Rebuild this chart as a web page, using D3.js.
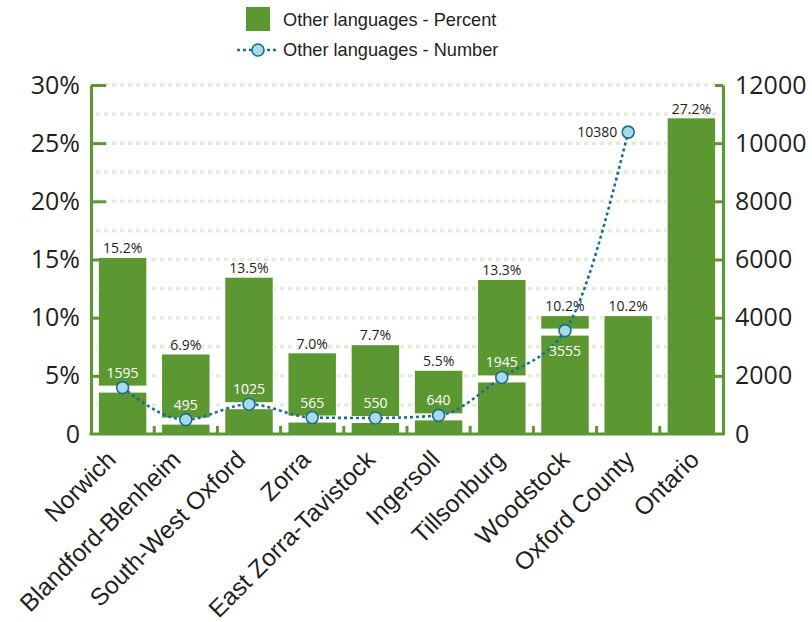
<!DOCTYPE html>
<html>
<head>
<meta charset="utf-8">
<script src="https://cdn.jsdelivr.net/npm/d3@7"></script>
<style>
  body { margin: 0; background: #fff; }
  svg { display: block; }
</style>
</head>
<body>
<svg id="chart" width="812" height="622"></svg>
<script>
// Share of residents whose mother tongue is another language, by municipality
const categories = ["Norwich", "Blandford-Blenheim", "South-West Oxford", "Zorra",
  "East Zorra-Tavistock", "Ingersoll", "Tillsonburg", "Woodstock", "Oxford County", "Ontario"];
const percentValues = [15.2, 6.9, 13.5, 7.0, 7.7, 5.5, 13.3, 10.2, 10.2, 27.2];
const numberValues = [1595, 495, 1025, 565, 550, 640, 1945, 3555, 10380, null];
const percentTicks = [0, 5, 10, 15, 20, 25, 30];
const numberTicks = [0, 2000, 4000, 6000, 8000, 10000, 12000];
const gridValues = [2.5, 5, 7.5, 10, 12.5, 15, 17.5, 20, 22.5, 25, 27.5, 30];
const legendLabels = ["Other languages - Percent", "Other languages - Number"];

const GREEN = "#5b9832";
const GRID = "#e1eed5";
const LINE = "#1c6c93";
const DOT = "#a9dbe6";
const INK = "#231f20";

const svg = d3.select("#chart");
const plotLeft = 91, plotRight = 723, plotTop = 85, plotBottom = 434;

const x = d3.scaleBand().domain(categories).range([plotLeft, plotRight])
  .paddingInner(0.225).paddingOuter(0.1125);
// category names sit on a slightly wider spread than the bars
const xLabel = x.copy().range([plotLeft - 6, plotRight + 10]);
const y = d3.scaleLinear().domain([0, 30]).range([plotBottom, plotTop]);
const yR = d3.scaleLinear().domain([0, 12000]).range([plotBottom, plotTop]);

// dotted horizontal guides
svg.append("g").selectAll("line").data(gridValues).join("line")
  .attr("x1", plotLeft + 5).attr("x2", plotRight - 4)
  .attr("y1", d => y(d)).attr("y2", d => y(d))
  .attr("stroke", GRID).attr("stroke-width", 3.5).attr("stroke-dasharray", "4,4");

// percent bars
const rows = categories.map((c, i) => ({ c, p: percentValues[i], n: numberValues[i] }));
svg.append("g").selectAll("rect").data(rows).join("rect")
  .attr("x", d => x(d.c)).attr("width", x.bandwidth())
  .attr("y", d => y(d.p)).attr("height", d => plotBottom - y(d.p))
  .attr("fill", GREEN).attr("stroke", "#fff").attr("stroke-width", 1.5);

// white band across a bar where the number line passes through it
svg.append("g").selectAll("rect")
  .data(rows.filter(d => d.n != null && yR(d.n) > y(d.p)))
  .join("rect")
  .attr("x", d => x(d.c)).attr("width", x.bandwidth())
  .attr("y", d => yR(d.n) - 2).attr("height", 7)
  .attr("fill", "#fff");

// percent value labels
svg.append("g").selectAll("text").data(rows).join("text")
  .attr("x", d => x(d.c) + x.bandwidth() / 2).attr("y", d => y(d.p) - 4)
  .attr("text-anchor", "middle")
  .attr("font-family", "'Open Sans', sans-serif").attr("font-size", 14)
  .attr("fill", INK).text(d => d.p.toFixed(1) + "%");

// category separators on the base line
const seps = categories.slice(0, -1).map(c => x(c) + x.bandwidth() + (x.step() - x.bandwidth()) / 2);
svg.append("g").selectAll("line").data(seps).join("line")
  .attr("x1", d => d).attr("x2", d => d)
  .attr("y1", plotBottom).attr("y2", plotBottom - 8)
  .attr("stroke", GREEN).attr("stroke-width", 3);

// left axis (percent)
const gl = svg.append("g").attr("transform", `translate(${plotLeft},0)`)
  .call(d3.axisLeft(y).tickValues(percentTicks).tickSize(-15).tickSizeOuter(0).tickPadding(11)
    .tickFormat(d => d === 0 ? "0" : d + "%"));
// right axis (number)
const gr = svg.append("g").attr("transform", `translate(${plotRight},0)`)
  .call(d3.axisRight(yR).tickValues(numberTicks).tickSize(-8).tickSizeOuter(0).tickPadding(12)
    .tickFormat(d3.format("d")));
[gl, gr].forEach(g => {
  g.selectAll(".domain, line").attr("stroke", GREEN).attr("stroke-width", 3);
  g.selectAll("text").attr("font-family", "'Open Sans', sans-serif")
    .attr("font-size", 25).attr("fill", INK);
});
gl.select(".tick:first-of-type line").remove();
gr.select(".tick:first-of-type line").remove();

// base line
svg.append("line").attr("x1", plotLeft - 1.5).attr("x2", plotRight + 1.5)
  .attr("y1", plotBottom).attr("y2", plotBottom)
  .attr("stroke", GREEN).attr("stroke-width", 3);

// slanted category names
const gb = svg.append("g").attr("transform", `translate(0,${plotBottom})`)
  .call(d3.axisBottom(xLabel).tickSize(0).tickSizeOuter(0).tickPadding(0));
gb.select(".domain").remove();
gb.selectAll(".tick text")
  .attr("font-family", "'Liberation Sans', Arial, sans-serif").attr("font-size", 24.5)
  .attr("fill", INK).attr("text-anchor", "end")
  .attr("transform", "translate(0,27) rotate(-45)").attr("dy", 0).attr("y", 0).attr("x", 0);

// number line
const pts = rows.filter(d => d.n != null)
  .map(d => ({ ...d, px: x(d.c) + x.bandwidth() / 2, py: yR(d.n) }));
svg.append("path").datum(pts)
  .attr("d", d3.line().x(d => d.px).y(d => d.py).curve(d3.curveMonotoneX))
  .attr("fill", "none").attr("stroke", LINE).attr("stroke-width", 2.6)
  .attr("stroke-dasharray", "3,3");
svg.append("g").selectAll("circle").data(pts).join("circle")
  .attr("cx", d => d.px).attr("cy", d => d.py).attr("r", 6)
  .attr("fill", DOT).attr("stroke", LINE).attr("stroke-width", 1.6);

// number labels: above the marker, below it when crowded by the bar top, beside it outside the bar
svg.append("g").selectAll("text").data(pts).join("text")
  .each(function (d) {
    const room = d.py - y(d.p);
    const t = d3.select(this)
      .attr("font-family", "'Open Sans', sans-serif").attr("font-size", 14).text(d.n);
    if (room < 0) {
      t.attr("x", d.px - 11).attr("y", d.py + 5).attr("text-anchor", "end").attr("fill", INK);
    } else if (room < 30) {
      t.attr("x", d.px).attr("y", d.py + 25).attr("text-anchor", "middle").attr("fill", "#fff");
    } else {
      t.attr("x", d.px).attr("y", d.py - 10).attr("text-anchor", "middle").attr("fill", "#fff");
    }
  });

// legend
const lg = svg.append("g").attr("font-family", "'Liberation Sans', Arial, sans-serif")
  .attr("font-size", 18.2).attr("fill", INK);
lg.append("rect").attr("x", 246).attr("y", 7).attr("width", 24).attr("height", 24).attr("fill", GREEN);
lg.append("text").attr("x", 283).attr("y", 26).text(legendLabels[0]);
lg.append("line").attr("x1", 237).attr("x2", 278).attr("y1", 50).attr("y2", 50)
  .attr("stroke", LINE).attr("stroke-width", 2.6).attr("stroke-dasharray", "3,3");
lg.append("circle").attr("cx", 258).attr("cy", 50).attr("r", 6)
  .attr("fill", DOT).attr("stroke", LINE).attr("stroke-width", 1.6);
lg.append("text").attr("x", 283).attr("y", 56).text(legendLabels[1]);
</script>
</body>
</html>
